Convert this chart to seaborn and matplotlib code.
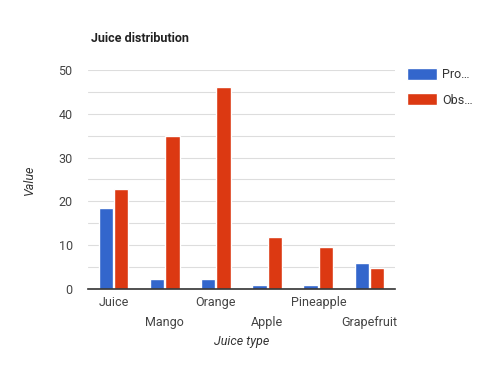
import matplotlib
matplotlib.use("Agg")
import matplotlib.pyplot as plt
import seaborn as sns
import pandas as pd
from matplotlib.patches import Patch

categories = ["Juice", "Mango", "Orange", "Apple", "Pineapple", "Grapefruit"]
series_names = ["Pro…", "Obs…"]
produced = [18.6, 2.3, 2.3, 0.9, 0.9, 6.0]
observed = [22.8, 35.0, 46.0, 11.8, 9.7, 4.9]
colors = ["#3366CC", "#DC3912"]

df = pd.DataFrame({
    "Juice type": categories * 2,
    "Value": produced + observed,
    "series": [series_names[0]] * len(categories) + [series_names[1]] * len(categories),
})

sns.set_style("white")
plt.rcParams["font.family"] = ["Roboto", "DejaVu Sans"]

fig = plt.figure(figsize=(4.86, 3.67), dpi=100)
ax = fig.add_axes([0.181, 0.2125, 0.632, 0.597])

sns.barplot(data=df, x="Juice type", y="Value", hue="series", palette=colors,
            width=0.6, gap=0.06, ax=ax, legend=False, saturation=1)

ax.set_ylim(0, 50)
ax.set_yticks([0, 10, 20, 30, 40, 50])
ax.set_yticks([5, 15, 25, 35, 45], minor=True)
ax.grid(axis="y", which="both", color="#dddddd", linewidth=0.8)
ax.set_axisbelow(True)
for s in ["top", "right", "left"]:
    ax.spines[s].set_visible(False)
ax.spines["bottom"].set_color("#333333")
ax.spines["bottom"].set_linewidth(1.2)
ax.tick_params(axis="both", which="both", length=0, labelsize=9, colors="#444444")
ax.tick_params(axis="y", pad=11)

labels = [c if i % 2 == 0 else "\n" + c for i, c in enumerate(categories)]
ax.set_xticks(range(len(categories)))
ax.set_xticklabels(labels, linespacing=1.7)
ax.tick_params(axis="x", pad=5)

ax.set_xlabel("Juice type", fontsize=9, style="italic", color="#333333", labelpad=4)
ax.set_ylabel("Value", fontsize=9, style="italic", color="#333333", labelpad=16)
ax.set_xlim(-0.5, 5.5)

fig.text(0.187, 0.885, "Juice distribution", fontsize=9, fontweight="bold", color="#222222")

handles = [Patch(facecolor=c) for c in colors]
fig.legend(handles, series_names, loc="upper left", bbox_to_anchor=(0.815, 0.845),
           frameon=False, fontsize=9, handlelength=2.4, handleheight=1.1,
           handletextpad=0.4, labelspacing=0.95, labelcolor="#333333")

fig.savefig("out.png", dpi=100)
